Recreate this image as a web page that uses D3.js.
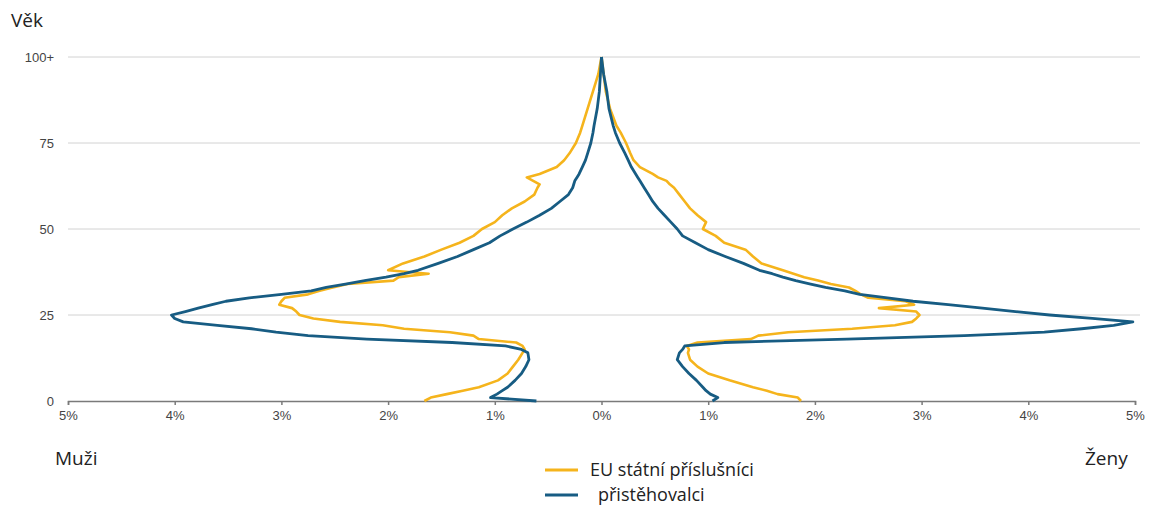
<!DOCTYPE html>
<html>
<head>
<meta charset="utf-8">
<script src="https://cdn.jsdelivr.net/npm/d3@7"></script>
<style>
  body { margin: 0; background: #fff; }
  text { font-family: "Open Sans", sans-serif; }
  .tick text { font-family: "Liberation Sans", Arial, sans-serif; }
</style>
</head>
<body>
<svg></svg>
<script>
// age points
var ages = [0,1,2,3,4,6,8,10,12,14, 15,16,17,18,19,20,21,22,23,24,
            25,26,27,28,29,30,31,32,33,34, 35,36,37,38,40,42,44,46,48,50,
            52,54,56,58,60,62,63,64,65,66, 68,70,72,75,78,80,85,90,95,100];

// share of population in % (men drawn to the left)
var euMen = [1.66,1.6,1.45,1.3,1.15,0.97,0.88,0.83,0.78,0.74,
             0.72,0.74,0.8,1.15,1.2,1.42,1.85,2.05,2.45,2.7,
             2.83,2.86,2.9,3.02,3.0,2.97,2.75,2.65,2.52,2.38,
             1.95,1.9,1.62,2.0,1.86,1.66,1.5,1.33,1.2,1.12,
             1.0,0.93,0.84,0.72,0.63,0.6,0.58,0.64,0.7,0.58,
             0.42,0.35,0.3,0.24,0.2,0.18,0.13,0.08,0.03,0];
var euWomen = [1.87,1.84,1.65,1.55,1.42,1.2,1.0,0.9,0.83,0.81,
               0.82,0.8,0.9,1.4,1.47,1.75,2.35,2.75,2.91,2.95,
               2.98,2.95,2.6,2.93,2.85,2.5,2.43,2.38,2.32,2.15,
               2.03,1.9,1.8,1.7,1.5,1.42,1.35,1.15,1.07,0.95,
               0.98,0.9,0.83,0.78,0.73,0.68,0.64,0.61,0.53,0.48,
               0.36,0.3,0.27,0.23,0.18,0.14,0.08,0.04,0.02,0];
var migMen = [0.61,1.04,0.98,0.93,0.88,0.81,0.75,0.71,0.68,0.69,
              0.75,0.9,1.4,2.2,2.75,3.05,3.28,3.6,3.92,4.0,
              4.03,3.9,3.78,3.65,3.52,3.3,3.0,2.72,2.58,2.4,
              2.22,2.02,1.85,1.72,1.53,1.35,1.2,1.05,0.95,0.83,
              0.7,0.58,0.47,0.39,0.31,0.27,0.26,0.25,0.23,0.21,
              0.18,0.15,0.13,0.1,0.08,0.07,0.04,0.02,0.01,0];
var migWomen = [1.04,1.09,1.02,0.98,0.95,0.89,0.82,0.76,0.71,0.73,
                0.76,0.78,1.15,2.3,3.4,4.15,4.5,4.8,4.98,4.6,
                4.2,3.88,3.57,3.25,2.92,2.68,2.42,2.28,2.1,1.96,
                1.82,1.7,1.6,1.48,1.33,1.16,1.0,0.88,0.76,0.71,
                0.65,0.59,0.53,0.48,0.44,0.4,0.38,0.36,0.34,0.32,
                0.28,0.25,0.22,0.17,0.13,0.11,0.07,0.05,0.02,0];

var xTicks = [-5,-4,-3,-2,-1,0,1,2,3,4,5];
var yTicks = [0,25,50,75,100];
var yTickLabels = ["0","25","50","75","100+"];

var EU_COLOR = "#f5b41c", MIG_COLOR = "#175c83";

var svg = d3.select("svg").attr("width", 1162).attr("height", 508);

var x = d3.scaleLinear().domain([-5, 5]).range([68, 1135]);
var y = d3.scaleLinear().domain([0, 100]).range([401, 57]);

// grid lines
svg.append("g").selectAll("line")
    .data(yTicks.slice(1))
    .enter().append("line")
    .attr("x1", x(-5)).attr("x2", x(5) + 5)
    .attr("y1", function(d) { return y(d); })
    .attr("y2", function(d) { return y(d); })
    .attr("stroke", "#d2d2d2")
    .attr("stroke-width", 1);

// x axis
var xAxis = svg.append("g")
    .attr("transform", "translate(0," + y(0) + ")")
    .call(d3.axisBottom(x).tickValues(xTicks).tickSizeOuter(0).tickSize(4).tickPadding(6)
        .tickFormat(function(d) { return Math.abs(d) + "%"; }));
xAxis.select(".domain").attr("stroke", "#7a7a7a").attr("stroke-width", 1.5);
xAxis.selectAll(".tick line").attr("stroke", "#7a7a7a").attr("stroke-width", 1.5);
xAxis.selectAll(".tick text").attr("fill", "#444").style("font-size", "13px");

// y axis
var yAxis = svg.append("g")
    .attr("transform", "translate(57,0)")
    .call(d3.axisLeft(y).tickValues(yTicks).tickSize(0).tickPadding(3)
        .tickFormat(function(d, i) { return yTickLabels[i]; }));
yAxis.select(".domain").remove();
yAxis.selectAll(".tick text").attr("fill", "#444").style("font-size", "13px");

// lines
function side(values, sign) {
    return ages.map(function(a, i) { return { age: a, v: sign * values[i] }; });
}
var line = d3.line()
    .x(function(d) { return x(d.v); })
    .y(function(d) { return y(d.age); });

var series = [
    { data: side(euMen, -1), color: EU_COLOR, w: 2.6 },
    { data: side(euWomen, 1), color: EU_COLOR, w: 2.6 },
    { data: side(migMen, -1), color: MIG_COLOR, w: 2.8 },
    { data: side(migWomen, 1), color: MIG_COLOR, w: 2.8 }
];
series.forEach(function(s) {
    svg.append("path")
        .datum(s.data)
        .attr("fill", "none")
        .attr("stroke", s.color)
        .attr("stroke-width", s.w)
        .attr("stroke-linejoin", "round")
        .attr("d", line);
});

// labels
svg.append("text").attr("x", 11).attr("y", 27).attr("fill", "#222")
    .style("font-size", "19px").text("Věk");
svg.append("text").attr("x", 55).attr("y", 465).attr("fill", "#222")
    .style("font-size", "19px").text("Muži");
svg.append("text").attr("x", 1085).attr("y", 465).attr("fill", "#222")
    .style("font-size", "19px").text("Ženy");

// legend
var legend = [
    { label: "EU státní příslušníci", color: EU_COLOR, y: 470, tx: 590 },
    { label: "přistěhovalci", color: MIG_COLOR, y: 495, tx: 598 }
];
legend.forEach(function(l) {
    svg.append("line").attr("x1", 545).attr("x2", 578)
        .attr("y1", l.y).attr("y2", l.y)
        .attr("stroke", l.color).attr("stroke-width", 3);
    svg.append("text").attr("x", l.tx).attr("y", l.y + 6).attr("fill", "#222")
        .style("font-size", "18px").text(l.label);
});
</script>
</body>
</html>
